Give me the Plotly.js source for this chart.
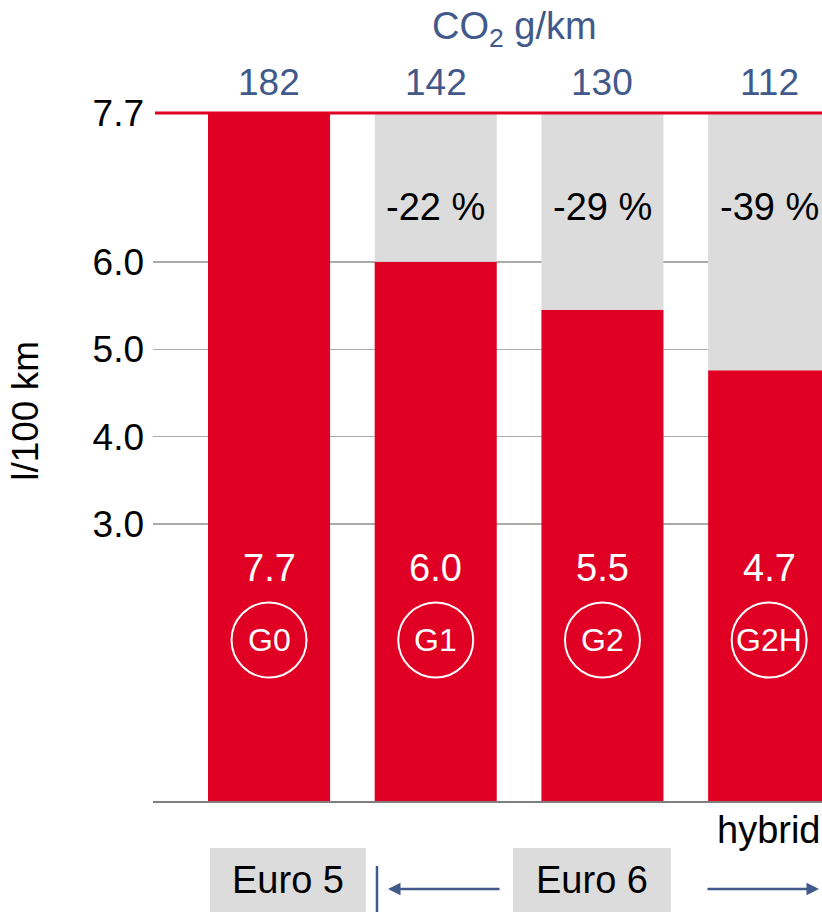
<!DOCTYPE html>
<html>
<head>
<meta charset="utf-8">
<script src="https://cdn.plot.ly/plotly-3.0.1.min.js"></script>
<style>
html,body{margin:0;padding:0;background:#fff;}
#chart{width:822px;height:912px;}
</style>
</head>
<body>
<div id="chart"></div>
<script>
// ---- data ----
const models = ['G0', 'G1', 'G2', 'G2H'];
const consumption = [7.7, 6.0, 5.45, 4.76];          // l/100 km, bar heights as drawn
const consumptionLabels = ['7.7', '6.0', '5.5', '4.7'];
const co2 = [182, 142, 130, 112];                    // g/km
const reductionLabels = ['', '-22 %', '-29 %', '-39 %'];
const referenceValue = 7.7;
const tickValues = [3.0, 4.0, 5.0, 6.0, 7.7];
const tickLabels = ['3.0', '4.0', '5.0', '6.0', '7.7'];

// ---- style ----
const RED = '#e00024';
const GREY = '#dcdcdc';
const BLUE = '#41598b';
const FONT = 'Liberation Sans, Arial, sans-serif';
const yMin = -0.163;
const xIdx = models.map((_, i) => i);

const redBars = {
  type: 'bar', x: xIdx, base: consumption.map(() => yMin),
  y: consumption.map(v => v - yMin), width: 0.732,
  marker: {color: RED, line: {width: 0}}, hoverinfo: 'skip', showlegend: false
};
const greyBars = {
  type: 'bar', x: xIdx, base: consumption,
  y: consumption.map(v => referenceValue - v), width: 0.732,
  marker: {color: GREY, line: {width: 0}}, hoverinfo: 'skip', showlegend: false
};

const annotations = [];
const shapes = [];

// title over CO2 values
annotations.push({xref: 'paper', yref: 'paper', x: 0.541, y: 1.122, text: 'CO<sub>2</sub> g/km',
  showarrow: false, font: {family: FONT, size: 38, color: BLUE}, xanchor: 'center', yanchor: 'middle'});
// y-axis title
annotations.push({xref: 'paper', yref: 'paper', x: -0.19, y: 0.567, text: 'l/100 km', textangle: -90,
  showarrow: false, font: {family: FONT, size: 37, color: '#000'}, xanchor: 'center', yanchor: 'middle'});

models.forEach((m, i) => {
  annotations.push({xref: 'x', yref: 'paper', x: i, y: 1.045, text: String(co2[i]), showarrow: false,
    font: {family: FONT, size: 37, color: BLUE}, xanchor: 'center', yanchor: 'middle'});
  annotations.push({xref: 'x', yref: 'paper', x: i, y: 0.3387, text: consumptionLabels[i], showarrow: false,
    font: {family: FONT, size: 38, color: '#fff'}, xanchor: 'center', yanchor: 'middle'});
  annotations.push({xref: 'x', yref: 'paper', x: i, y: 0.234, text: m, showarrow: false,
    font: {family: FONT, size: 32, color: '#fff'}, xanchor: 'center', yanchor: 'middle'});
  if (reductionLabels[i]) {
    annotations.push({xref: 'x', yref: 'paper', x: i, y: 0.863, text: reductionLabels[i], showarrow: false,
      font: {family: FONT, size: 38, color: '#000'}, xanchor: 'center', yanchor: 'middle'});
  }
  shapes.push({type: 'circle', xref: 'x', yref: 'paper', xsizemode: 'pixel', ysizemode: 'pixel',
    xanchor: i, yanchor: 0.234, x0: -37.5, x1: 37.5, y0: -37.5, y1: 37.5,
    line: {color: '#fff', width: 2}, layer: 'above'});
});

// hybrid label
annotations.push({xref: 'x', yref: 'paper', x: 3, y: -0.042, text: 'hybrid', showarrow: false,
  font: {family: FONT, size: 38, color: '#000'}, xanchor: 'center', yanchor: 'middle'});

// Euro boxes
shapes.push({type: 'rect', xref: 'paper', yref: 'paper', x0: 0.0852, x1: 0.318, y0: -0.0683, y1: -0.17,
  fillcolor: GREY, line: {width: 0}, layer: 'below'});
shapes.push({type: 'rect', xref: 'paper', yref: 'paper', x0: 0.538, x1: 0.774, y0: -0.0683, y1: -0.17,
  fillcolor: GREY, line: {width: 0}, layer: 'below'});
annotations.push({xref: 'paper', yref: 'paper', x: 0.2018, y: -0.1148, text: 'Euro 5', showarrow: false,
  font: {family: FONT, size: 38, color: '#000'}, xanchor: 'center', yanchor: 'middle'});
annotations.push({xref: 'paper', yref: 'paper', x: 0.656, y: -0.1148, text: 'Euro 6', showarrow: false,
  font: {family: FONT, size: 38, color: '#000'}, xanchor: 'center', yanchor: 'middle'});
// separator line
shapes.push({type: 'line', xref: 'paper', yref: 'paper', x0: 0.3348, x1: 0.3348, y0: -0.0945, y1: -0.17,
  line: {color: BLUE, width: 2.5}});
// arrows
annotations.push({xref: 'paper', yref: 'paper', x: 0.3513, y: -0.1279, ax: 113, ay: 0, text: '',
  showarrow: true, arrowhead: 2, arrowsize: 1, arrowwidth: 2.5, arrowcolor: BLUE});
annotations.push({xref: 'paper', yref: 'paper', x: 0.9955, y: -0.1279, ax: -113, ay: 0, text: '',
  showarrow: true, arrowhead: 2, arrowsize: 1, arrowwidth: 2.5, arrowcolor: BLUE});

// reference line at 7.7 (top edge of the plot area, drawn in paper space so it is not clipped)
shapes.push({type: 'line', xref: 'paper', yref: 'paper', x0: 0.003, x1: 1, y0: 1, y1: 1,
  line: {color: RED, width: 3}, layer: 'above'});

const layout = {
  width: 822, height: 912,
  margin: {l: 153, r: 0, t: 113, b: 111, pad: 0},
  paper_bgcolor: '#fff', plot_bgcolor: '#fff',
  barmode: 'overlay', showlegend: false, hovermode: false,
  font: {family: FONT, color: '#000'},
  xaxis: {range: [-0.696, 3.317], showticklabels: false, showgrid: false, zeroline: false,
    showline: true, linecolor: '#7f7f7f', linewidth: 2, ticks: '', fixedrange: true},
  yaxis: {range: [yMin, referenceValue], tickvals: tickValues, ticktext: tickLabels,
    tickfont: {family: FONT, size: 37, color: '#000'}, showgrid: true, gridcolor: '#ababab', gridwidth: 1.5,
    zeroline: false, showline: false, ticks: '', ticklabelstandoff: 8, fixedrange: true},
  annotations: annotations,
  shapes: shapes
};

Plotly.newPlot('chart', [redBars, greyBars], layout, {staticPlot: true, displayModeBar: false});
</script>
</body>
</html>
